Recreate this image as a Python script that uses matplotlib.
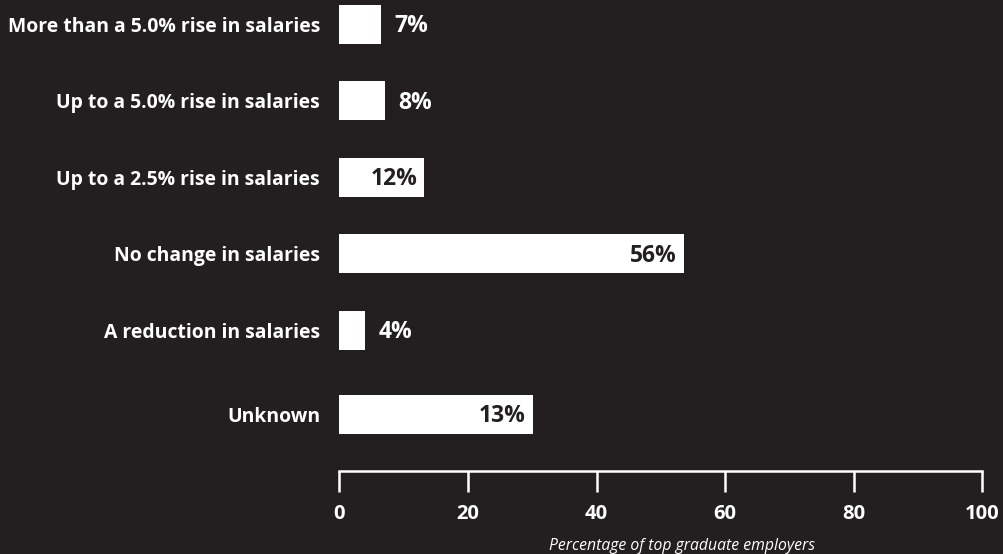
import matplotlib
matplotlib.use("Agg")
import matplotlib.pyplot as plt

# ---- data ----
categories = [
    "More than a 5.0% rise in salaries",
    "Up to a 5.0% rise in salaries",
    "Up to a 2.5% rise in salaries",
    "No change in salaries",
    "A reduction in salaries",
    "Unknown",
]
bar_values = [6.5, 7.1, 13.2, 53.6, 4.0, 30.1]   # bar lengths as drawn
value_labels = ["7%", "8%", "12%", "56%", "4%", "13%"]
label_inside = [False, False, True, True, False, True]
x_ticks = [0, 20, 40, 60, 80, 100]
x_label = "Percentage of top graduate employers"

# ---- layout ----
ypos = [0, 1, 2, 3, 4, 5.1]
BG = "#231f20"
FONT = ["Open Sans", "DejaVu Sans"]
plt.rcParams["font.family"] = FONT

W, H = 1004, 554
fig = plt.figure(figsize=(W / 100, H / 100), dpi=100, facecolor=BG)
ax_left, ax_right = 339.5, 982.0
ax_top, ax_bottom = 0.0, 471.0
ax = fig.add_axes([ax_left / W, 1 - ax_bottom / H, (ax_right - ax_left) / W, (ax_bottom - ax_top) / H])
ax.set_facecolor(BG)

c0, step = 24.3, 76.5
ax.set_ylim((ax_bottom - c0) / step, (ax_top - c0) / step)
ax.set_xlim(0, 100)

ax.barh(ypos, bar_values, height=0.506, color="white", edgecolor="none")

for y, v, lab, inside in zip(ypos, bar_values, value_labels, label_inside):
    if inside:
        ax.annotate(lab, (v, y), xytext=(-7, -2), textcoords="offset pixels",
                    ha="right", va="center", color=BG, fontsize=16.5, fontweight="bold")
    else:
        ax.annotate(lab, (v, y), xytext=(13, -2), textcoords="offset pixels",
                    ha="left", va="center", color="white", fontsize=16.5, fontweight="bold")

for s in ["top", "right", "left"]:
    ax.spines[s].set_visible(False)
ax.spines["bottom"].set_color("white")
ax.spines["bottom"].set_linewidth(1.8)
ax.spines["bottom"].set_capstyle("projecting")

ax.set_xticks(x_ticks)
ax.set_xticklabels([str(t) for t in x_ticks])
ax.tick_params(axis="x", colors="white", length=15, width=1.8, pad=9, labelsize=14.5)
for t in ax.get_xticklabels():
    t.set_fontweight("bold")

ax.set_yticks(ypos)
ax.set_yticklabels(categories)
ax.tick_params(axis="y", length=0, pad=14, labelsize=13.95, labelcolor="white")
for t in ax.get_yticklabels():
    t.set_fontweight("bold")

fig.text(682 / W, 1 - 546 / H, x_label, ha="center", va="center",
         color="white", fontsize=11.3, style="italic")

fig.savefig("out.png", dpi=100, facecolor=BG)
